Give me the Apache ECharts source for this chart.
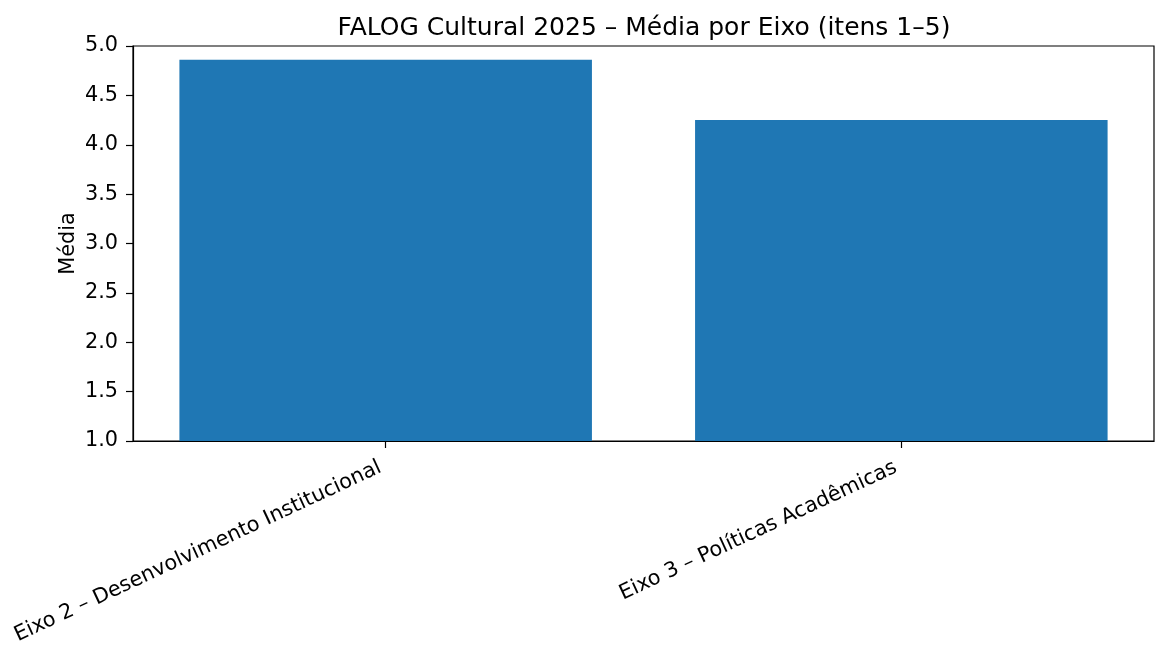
<!DOCTYPE html>
<html>
<head>
<meta charset="utf-8">
<script src="https://cdn.jsdelivr.net/npm/echarts@6/dist/echarts.min.js"></script>
<style>
html,body{margin:0;padding:0;background:#fff;}
#chart{width:1156px;height:647px;}
</style>
</head>
<body>
<div id="chart"></div>
<script>
const titleText = "FALOG Cultural 2025 – Média por Eixo (itens 1–5)";
const categories = ["Eixo 2 – Desenvolvimento Institucional", "Eixo 3 – Políticas Acadêmicas"];
const values = [4.86, 4.25];
const yAxisName = "Média";
const yTicks = [1.0, 1.5, 2.0, 2.5, 3.0, 3.5, 4.0, 4.5, 5.0];

const positions = categories.map((c, i) => i);
const font = "DejaVu Sans";
const fs = 20.8;
const chart = echarts.init(document.getElementById('chart'), null, {renderer: 'canvas'});
chart.setOption({
  animation: false,
  backgroundColor: '#fff',
  title: {
    text: titleText,
    left: 639, top: 11, textAlign: 'center',
    textStyle: {fontFamily: font, fontSize: 25, fontWeight: 'normal', color: '#000'}
  },
  grid: {
    left: 133, right: 2, top: 46, bottom: 206,
    containLabel: false, outerBoundsMode: 'none',
    show: true, borderColor: '#000', borderWidth: 1.2, backgroundColor: 'transparent'
  },
  xAxis: {
    type: 'value',
    min: -0.49, max: positions.length - 1 + 0.49,
    axisLine: {show: true, onZero: false, lineStyle: {color: '#000', width: 1.2}},
    axisTick: {show: true, customValues: positions, length: 7, lineStyle: {color: '#000', width: 1.2}},
    axisLabel: {
      customValues: positions,
      rotate: 25, fontFamily: font, fontSize: fs, color: '#000', margin: 23,
      align: 'right', verticalAlign: 'middle', padding: [0, 6, 0, 0],
      formatter: v => categories[Math.round(v)] || ''
    },
    splitLine: {show: false}
  },
  yAxis: {
    type: 'value',
    min: yTicks[0], max: yTicks[yTicks.length - 1], interval: 0.5,
    name: yAxisName, nameLocation: 'middle', nameGap: 54, nameMoveOverlap: false,
    nameTextStyle: {fontFamily: font, fontSize: fs, color: '#000'},
    axisLine: {show: true, onZero: false, lineStyle: {color: '#000', width: 1.2}},
    axisTick: {show: true, length: 7, lineStyle: {color: '#000', width: 1.2}},
    axisLabel: {fontFamily: font, fontSize: fs, color: '#000', margin: 15,
      formatter: v => v.toFixed(1)},
    splitLine: {show: false}
  },
  series: [{
    type: 'bar',
    data: positions.map((p, i) => [p, values[i]]),
    barWidth: '80%',
    itemStyle: {color: '#1f77b4'}
  }]
});
</script>
</body>
</html>
